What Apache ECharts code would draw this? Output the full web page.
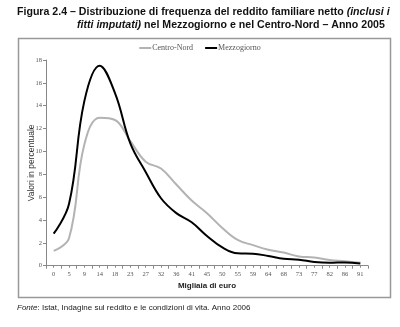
<!DOCTYPE html>
<html><head><meta charset="utf-8">
<script src="https://cdn.jsdelivr.net/npm/echarts@6/dist/echarts.min.js"></script>
<style>html,body{margin:0;padding:0;background:#fff}#c{width:400px;height:327px}</style>
</head><body><div id="c"></div>
<script>
const tickLabels = ['0','5','9','14','18','23','27','32','36','41','45','50','55','59','64','68','73','77','82','86','91'];
const centroNord = [1.3,2.4,10.6,12.95,12.75,10.9,9.1,8.5,7.1,5.7,4.6,3.3,2.25,1.8,1.4,1.15,0.8,0.72,0.5,0.4,0.26];
const mezzogiorno = [2.8,5.4,14.4,17.5,15.1,10.7,8.2,5.9,4.6,3.8,2.6,1.6,1.08,1.05,0.85,0.6,0.53,0.33,0.26,0.29,0.2];
const yTicks = {min:0, max:18, interval:2};

const chart = echarts.init(document.getElementById('c'), null, {renderer:'canvas'});
const sans = 'Liberation Sans';
const serif = 'Liberation Serif';
const tb = {fontFamily:sans,fontWeight:'bold',fontSize:10.6,fill:'#111'};
const tbi = {fontFamily:sans,fontWeight:'bold',fontStyle:'italic',fontSize:10.6,fill:'#111'};
chart.setOption({
  backgroundColor:'#fff',
  animation:false,
  graphic:[
    {type:'rect', shape:{x:18.5,y:38.5,width:372,height:259}, style:{fill:'none', stroke:'#999', lineWidth:1.5}},
    {type:'text', left:17, top:7, style:{
      text:'{b|Figura 2.4 – Distribuzione di frequenza del reddito familiare netto }{bi|(inclusi i}',
      rich:{b:tb,bi:tbi}}},
    {type:'text', left:77, top:20, style:{
      text:'{bi|fitti imputati)}{b| nel Mezzogiorno e nel Centro-Nord – Anno 2005}',
      rich:{b:tb,bi:tbi}}},
    {type:'text', left:17, top:304, style:{
      text:'{i|Fonte}{r|: Istat, Indagine sul reddito e le condizioni di vita. Anno 2006}',
      rich:{i:{fontFamily:sans,fontStyle:'italic',fontSize:8,fill:'#222'},r:{fontFamily:sans,fontSize:8,fill:'#222'}}}}
  ],
  legend:{
    top:39, left:'center', itemWidth:12, itemHeight:2, itemGap:12, icon:'rect',
    textStyle:{fontFamily:serif,fontSize:8,color:'#555',padding:[0,0,0,-4]},
    data:['Centro-Nord','Mezzogiorno']
  },
  grid:{left:46, top:60, width:322, height:205.7, containLabel:false},
  xAxis:[{
    type:'category', data:tickLabels, boundaryGap:true,
    name:'Migliaia di euro', nameLocation:'middle', nameGap:16, nameMoveOverlap:false,
    nameTextStyle:{fontFamily:sans,fontWeight:'bold',fontSize:8,color:'#222'},
    axisLine:{lineStyle:{color:'#888',width:1}},
    axisTick:{show:true,interval:0,alignWithLabel:false,length:3,lineStyle:{color:'#888'}},
    axisLabel:{interval:0,fontFamily:serif,fontSize:6.5,color:'#555',margin:5},
    splitLine:{show:false}
  },{
    type:'category', data:tickLabels, boundaryGap:true, position:'bottom',
    axisLine:{show:false},
    axisTick:{show:true,interval:0,alignWithLabel:true,length:2,lineStyle:{color:'#888'}},
    axisLabel:{show:false}, splitLine:{show:false}
  }],
  yAxis:{
    type:'value', min:yTicks.min, max:yTicks.max, interval:yTicks.interval,
    name:'Valori in percentuale', nameLocation:'middle', nameGap:10, nameRotate:90, nameMoveOverlap:false,
    nameTextStyle:{fontFamily:sans,fontSize:8.5,color:'#333'},
    axisLine:{show:true,lineStyle:{color:'#888',width:1}},
    axisTick:{show:true,length:3,lineStyle:{color:'#888'}},
    axisLabel:{fontFamily:serif,fontSize:6.5,color:'#555',margin:4},
    splitLine:{show:false}
  },
  series:[
    {name:'Centro-Nord', type:'line', data:centroNord, smooth:0.4, symbol:'none',
     lineStyle:{color:'#b3b3b3',width:2}, itemStyle:{color:'#b3b3b3'}},
    {name:'Mezzogiorno', type:'line', data:mezzogiorno, smooth:0.4, symbol:'none',
     lineStyle:{color:'#000',width:2}, itemStyle:{color:'#000'}}
  ]
});
</script></body></html>
